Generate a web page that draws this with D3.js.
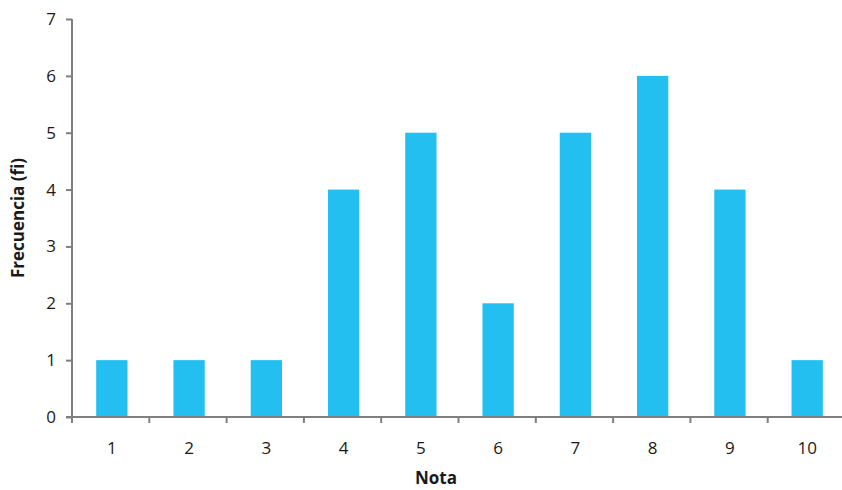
<!DOCTYPE html>
<html>
<head>
<meta charset="utf-8">
<script src="https://cdn.jsdelivr.net/npm/d3@7"></script>
<style>
  html, body { margin: 0; padding: 0; background: #fff; }
  svg { display: block; }
  text { font-family: "Open Sans", "Noto Sans", sans-serif; fill: #1a1a1a; }
</style>
</head>
<body>
<svg id="chart" width="842" height="490"></svg>
<script>
// Frequency of each grade
const notas = ["1", "2", "3", "4", "5", "6", "7", "8", "9", "10"];
const frecuencias = [1, 1, 1, 4, 5, 2, 5, 6, 4, 1];
const yTicks = [0, 1, 2, 3, 4, 5, 6, 7];
const xTitle = "Nota";
const yTitle = "Frecuencia (fi)";

const svg = d3.select("#chart");
const margin = { left: 72, right: -3, top: 19, bottom: 73 };
const W = 842, H = 490;
const axisColor = "#7f7f7f";

const x = d3.scaleBand()
  .domain(notas)
  .range([margin.left, W - margin.right])
  .paddingInner(0.595)
  .paddingOuter(0.3);

const xb = d3.scaleLinear().domain([0, notas.length]).range([margin.left, W - margin.right]);

const y = d3.scaleLinear()
  .domain([0, 7])
  .range([H - margin.bottom, margin.top]);

// Bars
svg.append("g")
  .selectAll("rect")
  .data(frecuencias)
  .join("rect")
  .attr("x", (d, i) => x(notas[i]) + 1)
  .attr("y", d => y(d))
  .attr("width", x.bandwidth())
  .attr("height", d => y(0) - y(d))
  .attr("fill", "#23bff0");

// Y axis
const yAxis = svg.append("g")
  .attr("transform", `translate(${margin.left},0)`)
  .call(d3.axisLeft(y).tickValues(yTicks).tickFormat(d3.format("d")).tickSize(6).tickPadding(10));
yAxis.select(".domain").attr("stroke", axisColor).attr("stroke-width", 2).attr("d", `M0,${y(7)}V${y(0)}`);
yAxis.selectAll(".tick line").attr("stroke", axisColor).attr("stroke-width", 2);
yAxis.selectAll(".tick text").style("font-size", "17px").attr("fill", "#1a1a1a");

// X axis line with boundary ticks between categories
const xg = svg.append("g").attr("transform", `translate(0,${y(0)})`);
xg.append("line")
  .attr("x1", margin.left - 6).attr("x2", W)
  .attr("stroke", axisColor).attr("stroke-width", 2);
xg.selectAll("line.b")
  .data(d3.range(0, notas.length + 1))
  .join("line")
  .attr("class", "b")
  .attr("x1", d => xb(d)).attr("x2", d => xb(d))
  .attr("y1", 0).attr("y2", 6)
  .attr("stroke", axisColor).attr("stroke-width", 2);
xg.selectAll("text")
  .data(notas)
  .join("text")
  .attr("x", d => x(d) + x.bandwidth() / 2 + 1)
  .attr("y", 37)
  .attr("text-anchor", "middle")
  .style("font-size", "17px")
  .text(d => d);

// Axis titles
svg.append("text")
  .attr("x", 436)
  .attr("y", 484)
  .attr("text-anchor", "middle")
  .style("font-size", "17px")
  .style("font-weight", "bold")
  .text(xTitle);

svg.append("text")
  .attr("transform", `translate(24,${y(3.5)}) rotate(-90)`)
  .attr("text-anchor", "middle")
  .style("font-size", "17px")
  .style("font-weight", "bold")
  .text(yTitle);
</script>
</body>
</html>
